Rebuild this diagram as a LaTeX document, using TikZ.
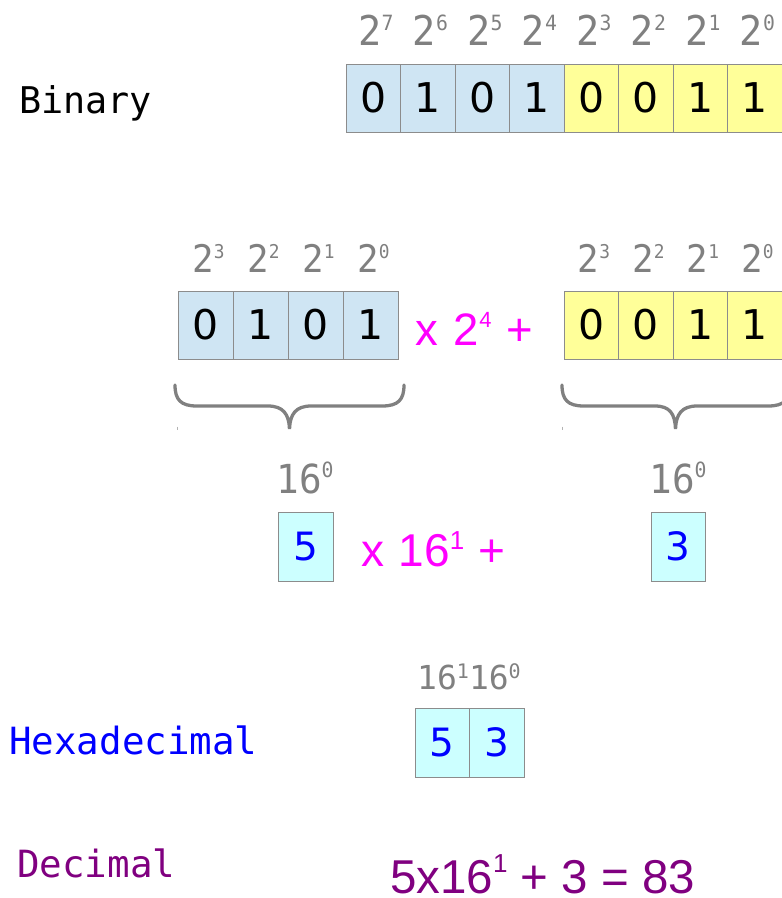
\documentclass[tikz,border=0pt]{standalone}
\usepackage{fontspec}
\setmainfont{DejaVu Sans}
\newfontfamily\monoA{DejaVu Sans Mono}
\newfontfamily\monoB[FakeStretch=0.94]{DejaVu Sans Mono}
\newfontfamily\arialA{Liberation Sans}

\definecolor{cellblue}{HTML}{CFE5F3}
\definecolor{cellyellow}{HTML}{FFFF99}
\definecolor{cellcyan}{HTML}{CCFFFF}
\definecolor{cellline}{HTML}{8C8C8C}
\definecolor{labelgray}{HTML}{808080}
\definecolor{eqpurple}{HTML}{800080}
\definecolor{eqmagenta}{HTML}{FF00FF}
\definecolor{hexblue}{HTML}{0000FF}

\newcommand{\fsz}[1]{\fontsize{#1}{#1}\selectfont}
% base size, sup size, base text, sup text, raise
\newcommand{\pwr}[5]{{\fsz{#1}#3}\raisebox{#5pt}{\fsz{#2}#4}}

\tikzset{
  cellbox/.style={draw=cellline, line width=1pt, minimum height=68pt,
    inner sep=0pt, outer sep=0pt, anchor=north west, font=\fsz{41}},
  hexbox/.style={draw=cellline, line width=1pt, minimum height=69pt,
    inner sep=0pt, outer sep=0pt, anchor=north west, fill=cellcyan,
    text=hexblue, font=\fsz{39}},
  powlbl/.style={anchor=base, inner sep=0pt, text=labelgray, font=\monoB},
  sidelbl/.style={anchor=base west, inner sep=0pt, font=\monoA},
  eqtext/.style={anchor=base west, inner sep=0pt, text depth=0pt},
  brace/.style={draw=labelgray, line width=3.3pt, line cap=round},
  tick/.style={draw=labelgray!60, line width=0.8pt}
}

\begin{document}
\begin{tikzpicture}[x=1pt, y=-1pt]
\useasboundingbox (0,0) rectangle (782,898);

% ---- Binary row ----
\node[sidelbl, font=\monoA\fsz{36.8}] (binlbl) at (19,113) {Binary};
\foreach [count=\i] \d/\c in {0/cellblue,1/cellblue,0/cellblue,1/cellblue,0/cellyellow,0/cellyellow,1/cellyellow,1/cellyellow}
  \node[cellbox, fill=\c, minimum width=54.5pt] (b\i) at ({346+54.5*(\i-1)},64) {\d};
\foreach [count=\i] \e in {7,6,5,4,3,2,1,0}
  \node[powlbl] (p\i) at ({376+54.5*(\i-1)},45) {\pwr{41}{21}{2}{\e}{14.6}};

% ---- Split row ----
\foreach [count=\i] \d in {0,1,0,1}
  \node[cellbox, fill=cellblue, minimum width=55pt] (l\i) at ({178+55*(\i-1)},291) {\d};
\foreach [count=\i] \d in {0,0,1,1}
  \node[cellbox, fill=cellyellow, minimum width=54.5pt] (r\i) at ({564+54.5*(\i-1)},291) {\d};
\foreach [count=\i] \e in {3,2,1,0}
  \node[powlbl] (lp\i) at ({208.5+55*(\i-1)},272) {\pwr{38}{19}{2}{\e}{14}};
\foreach [count=\i] \e in {3,2,1,0}
  \node[powlbl] (rp\i) at ({594+54.5*(\i-1)},272) {\pwr{38}{19}{2}{\e}{14}};
\node[eqtext, text=eqmagenta, font=\arialA\fsz{45.5}] (mul1) at (415,345)
  {x\hspace{16pt}2\raisebox{17.4pt}{\fsz{22}4}\hspace{15pt}+};

% braces
\draw[brace] (175,385) .. controls (175,400) and (181,406) .. (197,406) -- (268,406)
  .. controls (283,406) and (289,414) .. (289.5,429)
  .. controls (290,414) and (296,406) .. (311,406) -- (382,406)
  .. controls (398,406) and (404,400) .. (404,385);
\draw[brace] (562,385) .. controls (562,400) and (568,406) .. (584,406) -- (655,406)
  .. controls (670,406) and (675,414) .. (675.5,429)
  .. controls (676,414) and (682,406) .. (697,406) -- (768,406)
  .. controls (784,406) and (790,400) .. (790,385);
\draw[tick] (177,426.5) -- (177,430);
\draw[tick] (562,426.5) -- (562,430);

% ---- Hex digits row ----
\node[powlbl] (h1) at (305,493) {\pwr{40}{21}{16}{0}{16}};
\node[powlbl] (h2) at (678,493) {\pwr{40}{21}{16}{0}{16}};
\node[hexbox, minimum width=55pt] (x5) at (278,512) {5};
\node[hexbox, minimum width=54pt] (x3) at (651,512) {3};
\node[eqtext, text=eqmagenta, font=\arialA\fsz{46}] (mul2) at (361,566)
  {x\hspace{14.5pt}16\raisebox{16.3pt}{\fsz{26}1}\hspace{14.5pt}+};

% ---- Hexadecimal row ----
\node[sidelbl, text=hexblue, font=\monoA\fsz{37.5}] (hexlbl) at (9,754) {Hexadecimal};
\node[anchor=base, inner sep=0pt, text=labelgray, font=\monoA] (hp) at (469,689)
  {\pwr{33}{20}{16}{1}{11}\pwr{33}{20}{16}{0}{11}};
\node[hexbox, minimum width=54.5pt] (hx1) at (415,708) {5};
\node[hexbox, minimum width=54.5pt] (hx2) at (469.5,708) {3};

% ---- Decimal row ----
\node[sidelbl, text=eqpurple, font=\monoA\fsz{37.5}] (declbl) at (17,877) {Decimal};
\node[eqtext, text=eqpurple, font=\arialA\fsz{47.5}] (deceq) at (390,893)
  {5x16\raisebox{21pt}{\fsz{26}1} + 3 = 83};
\end{tikzpicture}
\end{document}
